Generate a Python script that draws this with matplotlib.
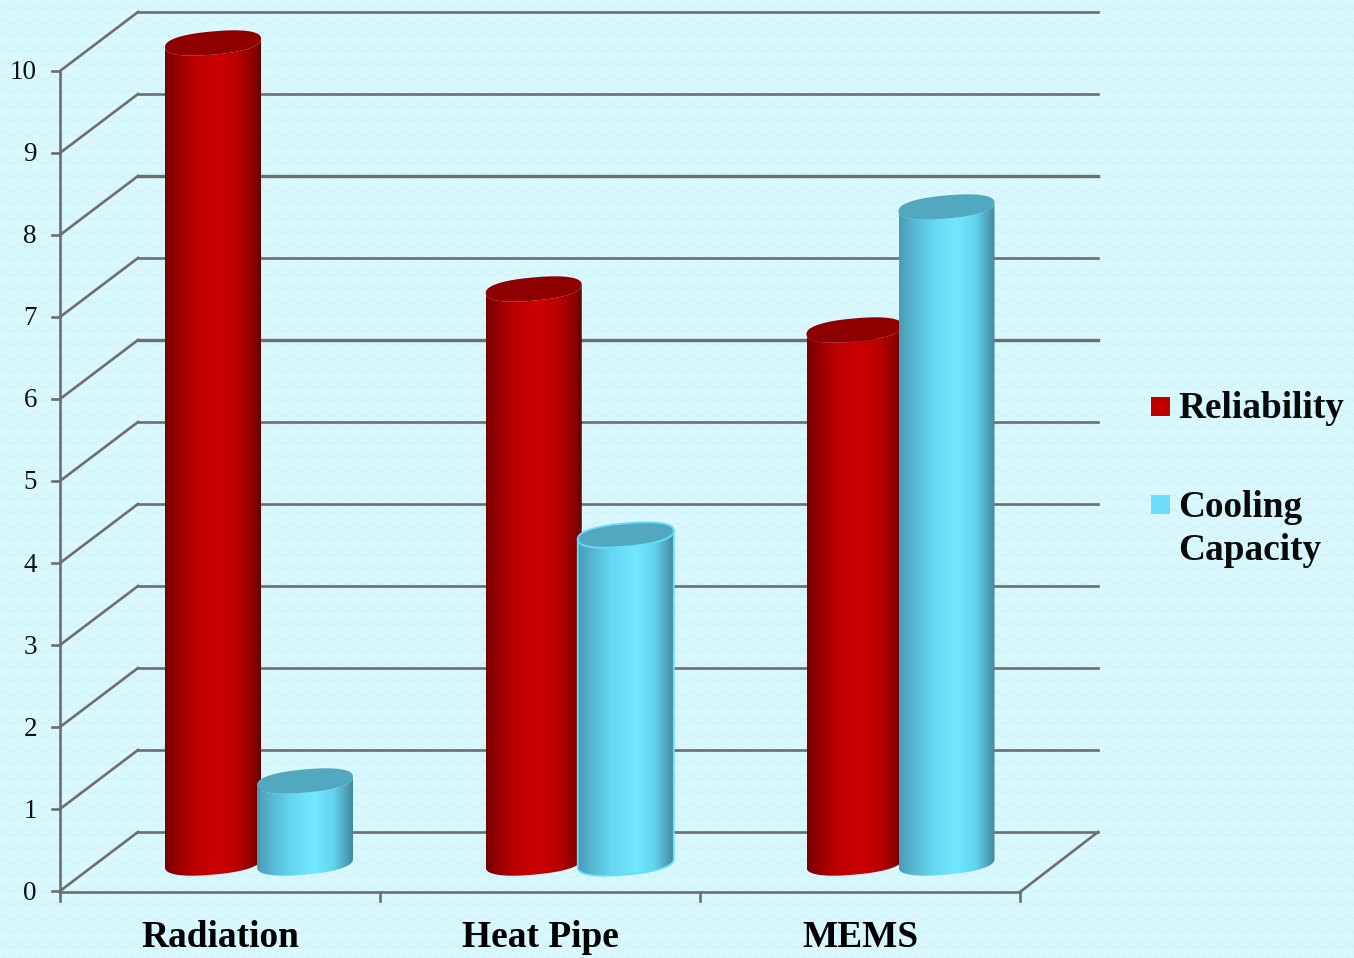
# Reliability vs cooling capacity of the thermal control options, drawn as 3D-style cylinders
import numpy as np
import matplotlib
matplotlib.use('Agg')
import matplotlib.pyplot as plt
from matplotlib.colors import LinearSegmentedColormap, to_rgb
from matplotlib.patches import PathPatch, Rectangle
from matplotlib.path import Path

plt.rcParams['font.family'] = ['Liberation Serif', 'DejaVu Serif']

# Chart data
categories = ['Radiation', 'Heat Pipe', 'MEMS']
reliability = [10, 7, 6.5]
cooling_capacity = [1, 4, 8]
y_ticks = [0, 1, 2, 3, 4, 5, 6, 7, 8, 9, 10]
legend_labels = ['Reliability', 'Cooling\nCapacity']

# Figure geometry in pixels
W, H = 1354, 958
X0, CAT_W = 60, 320
Y0, UNIT_H = 891, 82
DEPTH_X = 78 / CAT_W
DEPTH_Y = 59 / UNIT_H
LINE = '#6e6e6e'

fig = plt.figure(figsize=(W / 100, H / 100), dpi=100)

# Pale wavy paper behind everything
yy, xx = np.mgrid[0:H, 0:W]
wave = (yy + 2.5 * np.sin(2 * np.pi * xx / 16)) % 14
strength = np.clip(1 - np.abs(wave - 7) / 1.6, 0, 1)[..., None] * 0.8
paper = np.array(to_rgb('#d8f8fd')) * (1 - strength) + np.array(to_rgb('#cbf0f6')) * strength
fig.figimage(paper, 0, 0, origin='upper', zorder=-10)

ax = fig.add_axes([0, 0, 1, 1])
ax.axis('off')


def draw_line(xs, ys, lw=1.9):
    ax.plot(xs, ys, color=LINE, lw=lw, solid_capstyle='projecting', zorder=1)


# Walls and floor
n = len(categories)
for v in y_ticks:
    heavy = v in (8, 6)
    draw_line([0, DEPTH_X], [v, v + DEPTH_Y])
    draw_line([DEPTH_X, n + DEPTH_X], [v + DEPTH_Y, v + DEPTH_Y], lw=2.4 if heavy else 1.9)
    draw_line([-8 / CAT_W, 0], [v, v])
    ax.text(-23 / CAT_W, v - 2 / UNIT_H, str(v), ha='right', va='center', fontsize=19.5, color='#111111')
draw_line([0, 0], [0, y_ticks[-1]])
draw_line([0, n], [-0.012, -0.012])
draw_line([n, n + DEPTH_X], [-0.012, DEPTH_Y])
for i in range(n + 1):
    draw_line([i, i], [-0.012, -10 / UNIT_H])

for i, name in enumerate(categories):
    ax.text(i + 0.5, -56 / UNIT_H, name, ha='center', va='baseline', fontsize=26.9,
            fontweight='bold', color='black')

red_side = LinearSegmentedColormap.from_list('red_side', [
    (0, '#760000'), (0.12, '#960000'), (0.3, '#bb0000'), (0.55, '#cc0000'),
    (0.75, '#bb0000'), (0.92, '#8f0000'), (1, '#660000')])
blue_side = LinearSegmentedColormap.from_list('blue_side', [
    (0, '#4a9cb5'), (0.15, '#58b8d3'), (0.35, '#66d6f2'), (0.6, '#72e8ff'),
    (0.8, '#62d4f0'), (0.92, '#52a8c0'), (1, '#438a9f')])

HALF_W = 48 / CAT_W
TILT = 4.2 / UNIT_H
MINOR = 11.6 / UNIT_H


def ellipse_points(cx, cy, t):
    # Slightly squared-off ellipse so the cap ends stay round after the tilt
    c = np.sign(np.cos(t)) * np.abs(np.cos(t)) ** 0.85
    s = np.sign(np.sin(t)) * np.abs(np.sin(t)) ** 0.85
    return np.column_stack([cx + HALF_W * c, cy + TILT * c + MINOR * s])


def draw_cylinder(cx, value, cmap, cap_color, zorder, outline=None):
    floor = DEPTH_Y / 2 - 1.5 / UNIT_H
    top = value + floor
    lower = ellipse_points(cx, floor, np.linspace(np.pi, 2 * np.pi, 60))
    upper = ellipse_points(cx, top, np.linspace(2 * np.pi, np.pi, 60))
    body = PathPatch(Path(np.vstack([lower, upper, lower[:1]])), transform=ax.transData,
                     fc='none', ec='none')
    ax.add_patch(body)
    shade = ax.imshow(np.linspace(0, 1, 96)[None, :], cmap=cmap, aspect='auto', interpolation='bilinear',
                      extent=[cx - HALF_W, cx + HALF_W, floor - 0.2, top + 0.2], zorder=zorder)
    shade.set_clip_path(body)
    cap = ellipse_points(cx, top, np.linspace(0, 2 * np.pi, 120))
    ax.fill(cap[:, 0], cap[:, 1], color=cap_color, lw=0, zorder=zorder + 0.1)
    if outline:
        ax.plot(cap[:, 0], cap[:, 1], color=outline, lw=1.3, zorder=zorder + 0.2)
        rim = np.vstack([upper[-1:], lower, upper[:1]])
        ax.plot(rim[:, 0], rim[:, 1], color=outline, lw=1.3, zorder=zorder + 0.2)


z = 3
for i in range(n):
    nudge = 0.75 * i / CAT_W
    draw_cylinder(i + 0.5 - 46 / CAT_W + DEPTH_X / 2 + nudge, reliability[i], red_side, '#8e0000', z)
    # The Heat Pipe cooling bar carries a light rim
    rim = '#66ddff' if categories[i] == 'Heat Pipe' else None
    draw_cylinder(i + 0.5 + 46 / CAT_W + DEPTH_X / 2 + nudge, cooling_capacity[i], blue_side, '#52a8bf', z + 1, rim)
    z += 2

ax.set_xlim(-X0 / CAT_W, (W - X0) / CAT_W)
ax.set_ylim((Y0 - H) / UNIT_H, Y0 / UNIT_H)

# Legend
for label, color, top_px, base_px in zip(legend_labels, ['#c00000', '#6edcfb'], [397, 495], [418, 517]):
    fig.add_artist(Rectangle((1151 / W, 1 - (top_px + 19) / H), 19 / W, 19 / H,
                             transform=fig.transFigure, fc=color, ec='none'))
    for k, part in enumerate(label.split('\n')):
        fig.text(1178 / W, 1 - (base_px + 43 * k) / H, part, ha='left', va='baseline',
                 fontsize=26.8, fontweight='bold', color='#0a0a0a')

fig.savefig('out.png', dpi=100)
